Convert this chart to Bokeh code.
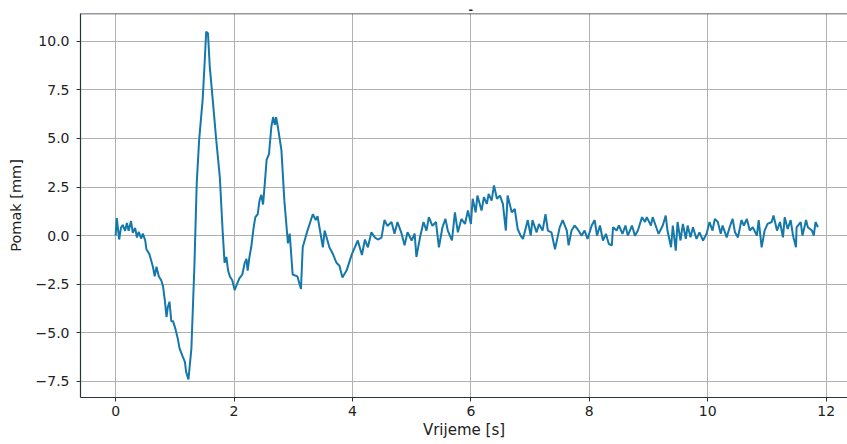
from bokeh.plotting import figure
from bokeh.models import Range1d, FixedTicker, CustomJSTickFormatter, Span, Title
from bokeh.embed import file_html
from bokeh.resources import INLINE

# time [s]
t = [0.00, 0.02, 0.06, 0.09, 0.12, 0.16, 0.19, 0.22, 0.26, 0.29, 0.33, 0.36, 0.39, 0.43, 0.46, 0.50,
     0.52, 0.57, 0.63, 0.66, 0.69, 0.73, 0.77, 0.80, 0.83, 0.86, 0.88, 0.91, 0.94, 0.97, 1.01, 1.05,
     1.08, 1.13, 1.17, 1.19, 1.23, 1.28, 1.33, 1.37, 1.41, 1.45, 1.47, 1.50, 1.53, 1.56, 1.59, 1.64,
     1.70, 1.76, 1.81, 1.84, 1.87, 1.90, 1.93, 1.97, 2.01, 2.05, 2.09, 2.14, 2.18, 2.21, 2.23, 2.26,
     2.29, 2.33, 2.36, 2.40, 2.43, 2.46, 2.49, 2.52, 2.55, 2.59, 2.63, 2.66, 2.69, 2.71, 2.74, 2.80,
     2.85, 2.91, 2.94, 2.99, 3.07, 3.13, 3.16, 3.24, 3.33, 3.38, 3.41, 3.50, 3.53, 3.61, 3.67, 3.73,
     3.78, 3.83, 3.90, 3.99, 4.04, 4.09, 4.16, 4.21, 4.26, 4.32, 4.38, 4.43, 4.49, 4.54, 4.59, 4.66,
     4.71, 4.76, 4.83, 4.88, 4.93, 5.00, 5.05, 5.08, 5.14, 5.20, 5.25, 5.29, 5.35, 5.41, 5.46, 5.52,
     5.57, 5.61, 5.68, 5.73, 5.78, 5.84, 5.90, 5.95, 6.00, 6.03, 6.08, 6.11, 6.18, 6.22, 6.27, 6.30,
     6.35, 6.39, 6.44, 6.49, 6.54, 6.59, 6.62, 6.69, 6.74, 6.79, 6.84, 6.88, 6.93, 6.96, 7.01, 7.04,
     7.11, 7.15, 7.21, 7.26, 7.30, 7.36, 7.42, 7.47,
     7.50, 7.55, 7.62, 7.65, 7.70, 7.75, 7.80, 7.87, 7.92, 7.97, 8.04, 8.09, 8.13, 8.18, 8.23, 8.28,
     8.33, 8.38, 8.40, 8.46, 8.50, 8.56, 8.61, 8.65, 8.72, 8.77, 8.82, 8.89, 8.94, 8.97, 9.04, 9.07,
     9.14, 9.17, 9.24, 9.29, 9.32, 9.38, 9.41, 9.46, 9.49, 9.54, 9.58, 9.63, 9.66, 9.71, 9.75, 9.81,
     9.86, 9.92, 9.98, 10.03, 10.08, 10.12, 10.17, 10.22, 10.25, 10.32, 10.37, 10.42, 10.46, 10.51,
     10.57, 10.61, 10.66, 10.71, 10.76, 10.83, 10.86, 10.91, 10.96, 11.01, 11.08, 11.11, 11.17, 11.22,
     11.27, 11.30, 11.35, 11.40, 11.44, 11.49, 11.50, 11.57, 11.60, 11.66, 11.69, 11.76, 11.79, 11.82,
     11.86]

# displacement [mm]
pomak = [0.00, 0.90, -0.20, 0.40, 0.55, 0.25, 0.65, 0.25, 0.75, 0.15, 0.40, -0.10, 0.20, -0.15, 0.10, -0.25,
         -0.70, -0.95, -1.60, -2.10, -1.60, -2.10, -2.30, -2.60, -3.30, -4.20, -3.70, -3.40, -4.40, -4.40, -4.80, -5.30,
         -5.80, -6.20, -6.50, -7.00, -7.40, -5.80, -1.60, 2.70, 4.90, 6.30, 7.00, 8.70, 10.50, 10.40, 8.70, 7.00,
         4.90, 3.00, 0.10, -1.40, -1.10, -1.80, -2.10, -2.30, -2.80, -2.50, -2.20, -2.00, -1.40, -1.20, -1.80, -1.10,
         -0.60, 0.40, 0.95, 1.10, 1.80, 2.10, 1.60, 2.70, 3.90, 4.20, 5.60, 6.10, 5.70, 6.10, 5.60, 4.40,
         1.80, -0.40, 0.10, -2.00, -2.10, -2.75, -0.60, 0.26, 1.10, 0.80, 1.00, -0.60, 0.26, -0.60, -0.95, -1.40,
         -1.55, -2.15, -1.80, -0.95, -0.60, -0.25, -1.00, -0.20, -0.60, 0.17, -0.10, -0.20, -0.10, 0.80, 0.50, 0.70,
         0.10, 0.70, 0.10, -0.50, 0.17, -0.25, 0.10, -1.10, -0.10, 0.70, 0.26, 0.95, 0.50, 0.70, -0.60, 0.43,
         0.86, 0.26, -0.25, 1.20, 0.17, 0.86, 0.60, 1.29, 0.60, 1.90, 1.20, 2.06, 1.29, 1.98, 1.63, 2.15,
         1.80, 2.58, 1.90, 2.06, 1.63, 0.26, 2.06, 1.20, 1.37, 0.34, 0.00, -0.17, 0.43, 0.80, 0.00, 0.80,
         0.17, 0.60, 0.26, 1.10, 0.26, 0.17, -0.70, 0.00,
         0.43, 0.80, 0.26, -0.50, 0.26, 0.52, 0.34, 0.00, 0.26, -0.17, 0.52, 0.80, 0.00, 0.52, -0.25, 0.09,
         -0.43, -0.50, 0.43, 0.26, 0.52, 0.09, 0.52, 0.00, 0.52, 0.00, 0.26, 0.95, 0.70, 0.95, 0.52, 0.95,
         0.34, 0.09, 0.52, 1.03, 0.26, -0.60, 0.52, -0.77, 0.70, -0.25, 0.60, -0.17, 0.52, -0.09, 0.43, -0.17,
         0.17, -0.25, 0.09, 0.70, 0.26, 0.86, 0.70, 0.09, 0.52, -0.09, 0.43, 0.86, 0.17, -0.09,
         0.80, 0.52, 0.86, 0.26, 0.43, 0.00, 0.80, -0.60, 0.26, 0.60, 0.70, 1.03, 0.26, 0.70,
         -0.09, 0.95, 0.34, 0.80, 0.00, -0.60, 0.43, 0.70, 0.00, 0.80, 0.43, 0.26, 0.00, 0.70,
         0.43]

x_ticks = [0, 2, 4, 6, 8, 10, 12]
y_ticks = [-7.5, -5.0, -2.5, 0.0, 2.5, 5.0, 7.5, 10.0]

LINE = "#1478aa"
SPINE = "#2b333b"
FONT = "DejaVu Sans"
Y_TOP = 11.43

title = Title(text="-", text_font=FONT, text_font_size="11px", text_font_style="bold",
              text_color="#222222", align="left", offset=388, standoff=1)

p = figure(width=847, height=444, output_backend="svg", toolbar_location=None,
           x_range=Range1d(-0.593, 12.36), y_range=Range1d(-8.33, Y_TOP), title=title,
           min_border_left=80, min_border_right=0, min_border_top=13, min_border_bottom=47)
p.outline_line_color = None
p.background_fill_color = "white"
p.border_fill_color = "white"

p.line(t, pomak, line_color=LINE, line_width=2)

for ax, ticks, lab in ((p.xaxis[0], x_ticks, "Vrijeme [s]"), (p.yaxis[0], y_ticks, "Pomak [mm]")):
    ax.ticker = FixedTicker(ticks=ticks)
    ax.axis_label = lab
    ax.axis_label_text_font = FONT
    ax.axis_label_text_font_style = "normal"
    ax.axis_label_text_color = "#222222"
    ax.major_label_text_font = FONT
    ax.major_label_text_font_size = "14px"
    ax.major_label_text_color = "#222222"
    ax.axis_line_color = SPINE
    ax.axis_line_width = 1.2
    ax.major_tick_line_color = SPINE
    ax.major_tick_out = 4
    ax.major_tick_in = 0
    ax.minor_tick_line_color = None

p.xaxis[0].axis_label_text_font_size = "15px"
p.yaxis[0].axis_label_text_font_size = "14.5px"
p.xaxis[0].formatter = CustomJSTickFormatter(code="return tick.toFixed(0);")
p.yaxis[0].formatter = CustomJSTickFormatter(code="return tick.toFixed(1).replace('-', '\u2212');")
p.xaxis[0].major_label_standoff = 4
p.xaxis[0].axis_label_standoff = 2
p.yaxis[0].major_label_standoff = 7
p.yaxis[0].axis_label_standoff = 9

# top spine
p.add_layout(Span(location=Y_TOP, dimension="width", line_color=SPINE, line_width=1.5))

for g, ticks in ((p.xgrid[0], x_ticks), (p.ygrid[0], y_ticks)):
    g.ticker = FixedTicker(ticks=ticks)
    g.grid_line_color = "#b0b0b0"
    g.grid_line_width = 1

open("out.html", "w").write(file_html(p, INLINE))
